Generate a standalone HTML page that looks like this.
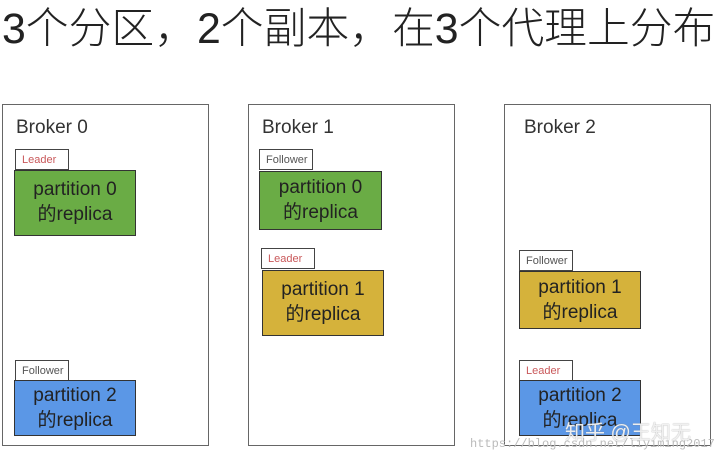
<!DOCTYPE html>
<html><head><meta charset="utf-8"><style>
body{margin:0;width:720px;height:458px;background:#fff;position:relative;overflow:hidden;font-family:"Liberation Sans","Noto Sans CJK SC",sans-serif}
.t{position:absolute;left:2px;top:1px;font-size:42.8px;line-height:56px;color:#222;white-space:nowrap;font-weight:300}
.b{position:absolute;border:1.5px solid #666;background:#fff;box-sizing:border-box}
.bl{position:absolute;font-size:19px;color:#333}
.tag{position:absolute;border:1px solid #444;background:#fff;font-size:11px;line-height:20px;height:21px;width:54px;box-sizing:border-box;padding-left:6px;color:#555}
.tag.l{color:#c9585a}
.p{position:absolute;border:1.5px solid #333;box-sizing:border-box;text-align:center;font-size:19px;line-height:25px;color:#222;padding-top:6px}
.g{background:#6aac45}.y{background:#d5b23b}.u{background:#5b97e6}
.wm{position:absolute;left:565px;top:416px;font-size:20px;color:rgba(255,255,255,.85);text-shadow:0 0 1px #888}
.url{position:absolute;left:470px;top:437px;font-size:12px;color:#bbb;font-family:"Liberation Mono",monospace}
</style></head><body>
<div class="t">3个分区，2个副本，在3个代理上分布</div>

<div class="b" style="left:2px;top:104px;width:207px;height:342px"></div>
<div class="bl" style="left:16px;top:117px">Broker 0</div>
<div class="tag l" style="left:15px;top:149px">Leader</div>
<div class="p g" style="left:14px;top:170px;width:122px;height:66px">partition 0<br>的replica</div>
<div class="tag" style="left:15px;top:360px">Follower</div>
<div class="p u" style="left:14px;top:380px;width:122px;height:56px;padding-top:2px">partition 2<br>的replica</div>

<div class="b" style="left:248px;top:104px;width:207px;height:342px"></div>
<div class="bl" style="left:262px;top:117px">Broker 1</div>
<div class="tag" style="left:259px;top:149px">Follower</div>
<div class="p g" style="left:259px;top:171px;width:123px;height:59px;padding-top:3px">partition 0<br>的replica</div>
<div class="tag l" style="left:261px;top:248px">Leader</div>
<div class="p y" style="left:262px;top:270px;width:122px;height:66px">partition 1<br>的replica</div>

<div class="b" style="left:504px;top:104px;width:207px;height:342px"></div>
<div class="bl" style="left:524px;top:117px">Broker 2</div>
<div class="tag" style="left:519px;top:250px">Follower</div>
<div class="p y" style="left:519px;top:271px;width:122px;height:58px;padding-top:3px">partition 1<br>的replica</div>
<div class="tag l" style="left:519px;top:360px">Leader</div>
<div class="p u" style="left:519px;top:380px;width:122px;height:56px;padding-top:2px">partition 2<br>的replica</div>

<div class="url">https://blog.csdn.net/liyiming2017</div>
<div class="wm">知乎 @王知无</div>
</body></html>
